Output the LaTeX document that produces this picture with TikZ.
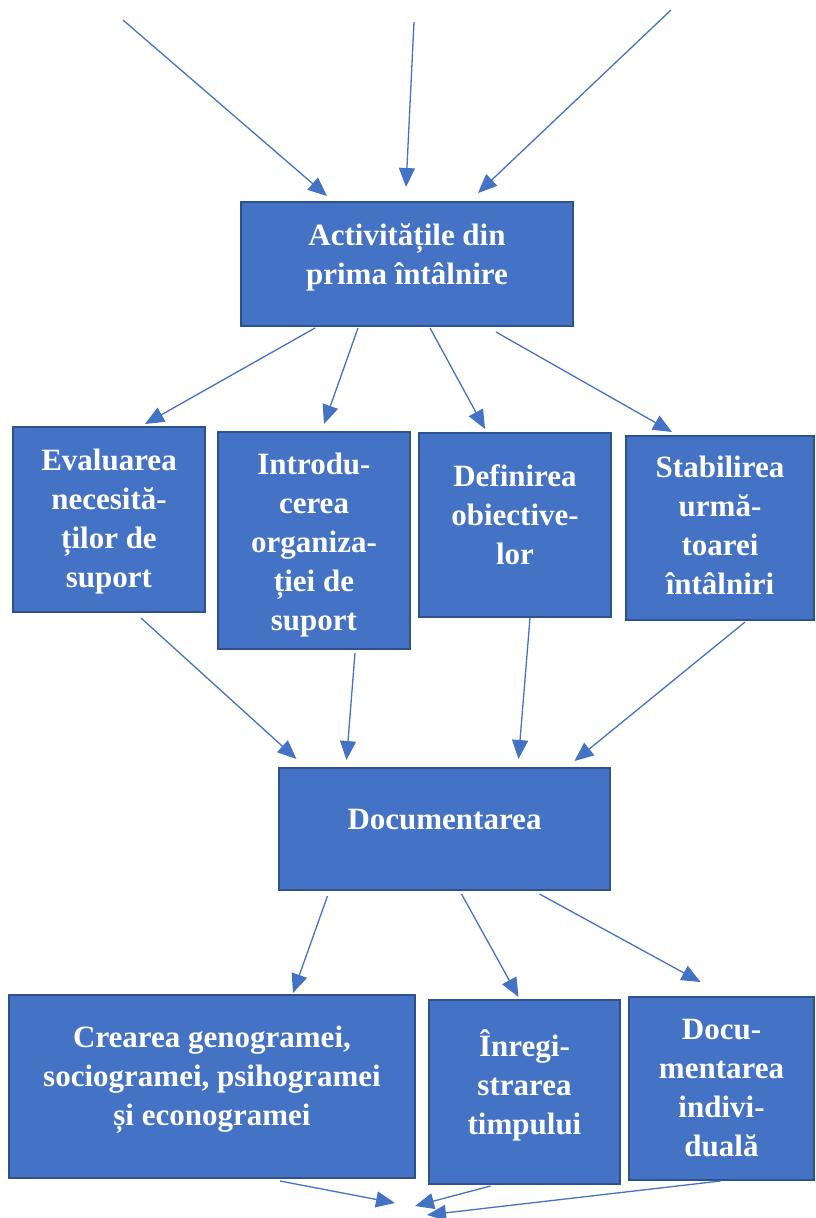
\documentclass[tikz,border=0pt]{standalone}
\usepackage{fontspec}
\setmainfont{Liberation Serif}
\usetikzlibrary{arrows.meta}
\definecolor{boxfill}{HTML}{4472C4}
\definecolor{boxedge}{HTML}{2F528F}
\definecolor{arrowblue}{HTML}{4472C4}
\begin{document}
\begin{tikzpicture}[x=1pt,y=-1pt,
  box/.style={draw=boxedge,line width=2pt,fill=boxfill,rectangle,inner sep=0pt},
  label/.style={text=white,align=center,inner sep=0pt,anchor=north,
    font=\fontsize{31}{39}\selectfont\bfseries},
  link/.style={draw=arrowblue,line width=1.3pt,-{Triangle[length=19pt,width=16pt]}}]
\useasboundingbox (0,0) rectangle (815,1218);

% boxes
\node[box,minimum width=332pt,minimum height=124pt] (top) at (407,264) {};
\node[box,minimum width=192pt,minimum height=185pt] (eval) at (109,519.5) {};
\node[box,minimum width=192pt,minimum height=217pt] (intro) at (314,540.5) {};
\node[box,minimum width=192pt,minimum height=184pt] (def) at (515,525) {};
\node[box,minimum width=188pt,minimum height=184pt] (stab) at (720,528) {};
\node[box,minimum width=331pt,minimum height=122pt] (doc) at (444.5,829) {};
\node[box,minimum width=406pt,minimum height=183pt] (crea) at (212,1086.5) {};
\node[box,minimum width=191pt,minimum height=184pt] (inreg) at (524.5,1092) {};
\node[box,minimum width=185pt,minimum height=183pt] (indiv) at (721.5,1088.5) {};

% texts
\node[label] (ttop) at (407,218) {\strut Activitățile din\\prima întâlnire};
\node[label] (teval) at (109,443) {\strut Evaluarea\\necesită-\\ților de\\suport};
\node[label] (tintro) at (314,447) {\strut Introdu-\\cerea\\organiza-\\ției de\\suport};
\node[label] (tdef) at (515,459) {\strut Definirea\\obiective-\\lor};
\node[label] (tstab) at (720,450) {\strut Stabilirea\\urmă-\\toarei\\întâlniri};
\node[label] (tdoc) at (444.5,802) {\strut Documentarea};
\node[label] (tcrea) at (212,1020) {\strut Crearea genogramei,\\sociogramei, psihogramei\\și econogramei};
\node[label] (tinreg) at (524.5,1029) {\strut Înregi-\\strarea\\timpului};
\node[label] (tindiv) at (721.5,1012) {\strut Docu-\\mentarea\\indivi-\\duală};

% free ends of the incoming and outgoing arrows
\coordinate (in1) at (123,20);
\coordinate (in2) at (414,22);
\coordinate (in3) at (671,10);
\coordinate (out1) at (395,1203);
\coordinate (out2) at (415,1206);
\coordinate (out3) at (427,1215);

% arrows into the first box
\draw[link] (in1) -- ([xshift=-80pt,yshift=5pt]top.north);
\draw[link] (in2) -- ([xshift=-1pt,yshift=14pt]top.north);
\draw[link] (in3) -- ([xshift=71pt,yshift=8pt]top.north);

% first box to the four activities
\draw[link] ([xshift=-92pt,yshift=-1pt]top.south) -- ([xshift=36pt,yshift=2pt]eval.north);
\draw[link] ([xshift=-49pt,yshift=-1pt]top.south) -- ([xshift=10pt,yshift=7pt]intro.north);
\draw[link] ([xshift=23pt,yshift=-1pt]top.south) -- ([xshift=-30pt,yshift=3pt]def.north);
\draw[link] ([xshift=89pt,yshift=-5pt]top.south) -- ([xshift=-48pt,yshift=3pt]stab.north);

% activities to Documentarea
\draw[link] ([xshift=32pt,yshift=-5pt]eval.south) -- ([xshift=-148pt,yshift=8pt]doc.north);
\draw[link] ([xshift=41pt,yshift=-3pt]intro.south) -- ([xshift=-98pt,yshift=7pt]doc.north);
\draw[link] ([xshift=15pt,yshift=0pt]def.south) -- ([xshift=74pt,yshift=8pt]doc.north);
\draw[link] ([xshift=25pt,yshift=-1pt]stab.south) -- ([xshift=130pt,yshift=6pt]doc.north);

% Documentarea to the three records
\draw[link] ([xshift=-117pt,yshift=-5pt]doc.south) -- ([xshift=81pt,yshift=1pt]crea.north);
\draw[link] ([xshift=17pt,yshift=-3pt]doc.south) -- ([xshift=-6pt,yshift=2pt]inreg.north);
\draw[link] ([xshift=95pt,yshift=-3pt]doc.south) -- ([xshift=-21pt,yshift=14pt]indiv.north);

% outgoing arrows at the bottom
\draw[link] ([xshift=68pt,yshift=-2pt]crea.south) -- (out1);
\draw[link] ([xshift=-34pt,yshift=-1pt]inreg.south) -- (out2);
\draw[link] ([xshift=-1pt,yshift=0pt]indiv.south) -- (out3);
\end{tikzpicture}
\end{document}
